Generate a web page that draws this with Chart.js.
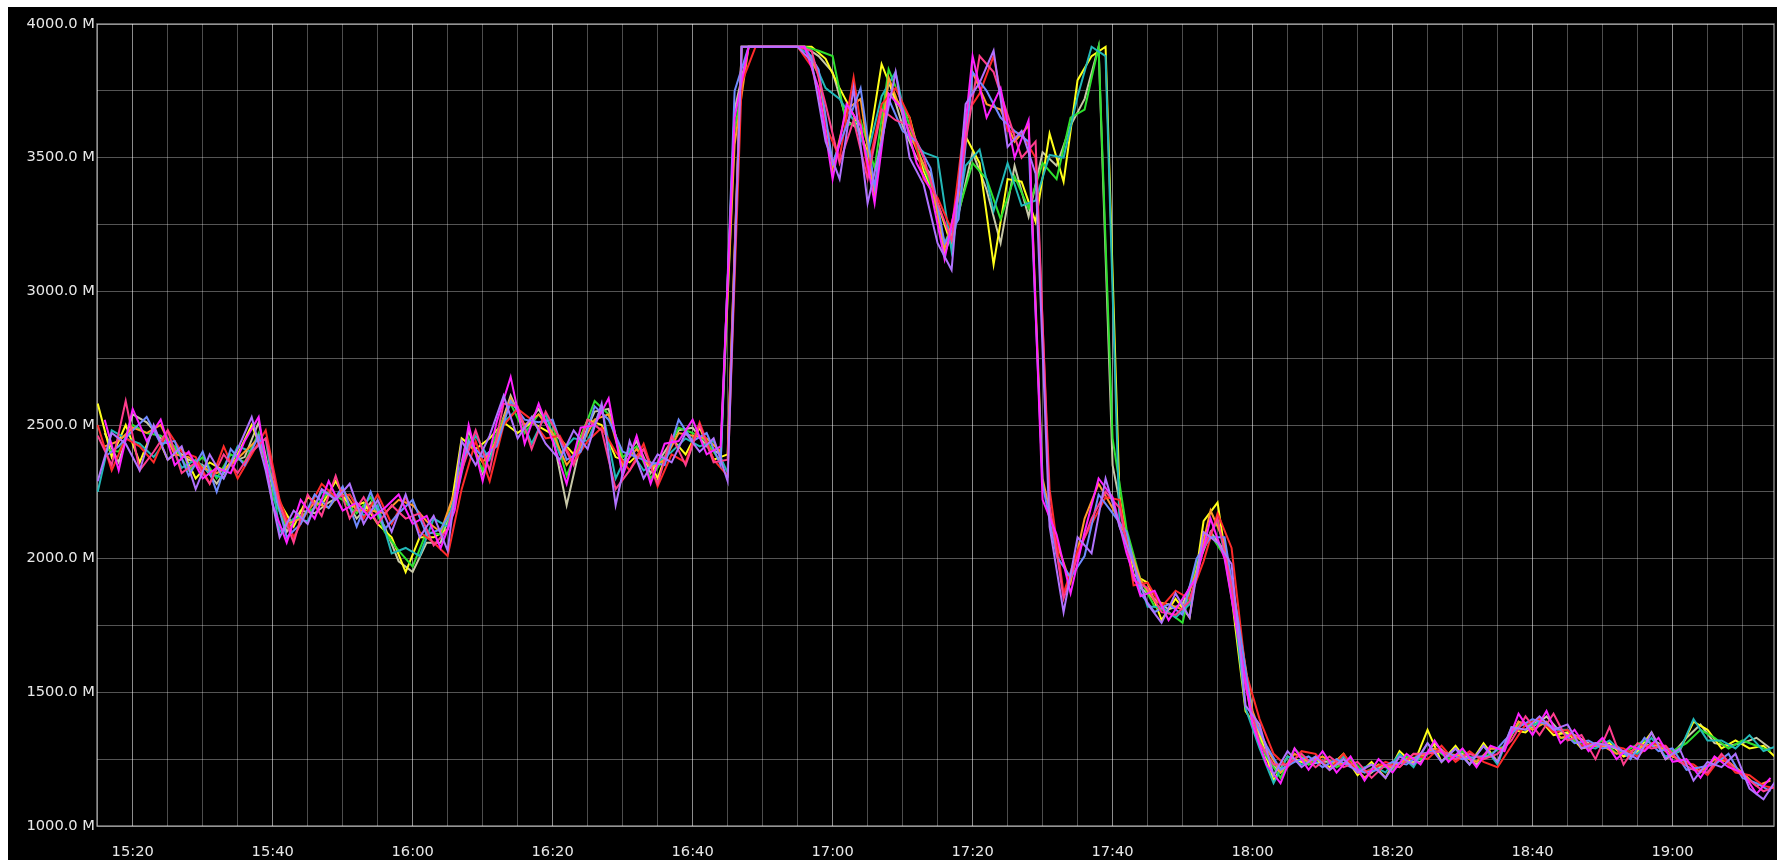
<!DOCTYPE html>
<html lang="en">
<head>
    <meta charset="UTF-8">
    <title>Throughput</title>
    <script src="https://cdn.jsdelivr.net/npm/chart.js"></script>
    <style>
        body, html {
            margin: 0;
            padding: 0;
            width: 1777px;
            height: 860px;
            overflow: hidden;
            background-color: #fff;
        }
        .plot {
            position: absolute;
            left: 8px;
            top: 7px;
            width: 1769px;
            height: 853px;
            background-color: #000;
        }
    </style>
</head>
<body>
    <div class="plot"><canvas id="throughputChart"></canvas></div>

    <script>
        // each host is polled every 2 minutes; half of them on odd minutes, half on even ones
        // (minutes after midnight: 915 = 15:15, 916 = 15:16)
        const oddStart = 915;
        const evenStart = 916;
        const stepMinutes = 2;

        const timeLabels = ['15:20', '15:40', '16:00', '16:20', '16:40', '17:00', '17:20', '17:40', '18:00', '18:20', '18:40', '19:00'];
        const yTicks = [1000, 1250, 1500, 1750, 2000, 2250, 2500, 2750, 3000, 3250, 3500, 3750, 4000];

        // values in M, odd minutes (15:15 .. 19:15)
        const violet = [
            2290, 2470, 2430, 2330, 2500, 2370, 2420, 2260, 2390, 2300,
            2410, 2530, 2330, 2080, 2180, 2130, 2260, 2220, 2280, 2130,
            2220, 2100, 2240, 2080, 2160, 2030, 2440, 2350, 2460, 2610,
            2450, 2530, 2430, 2370, 2480, 2410, 2580, 2200, 2440, 2300,
            2390, 2360, 2470, 2400, 2450, 2290, 3915, 3915, 3915, 3915,
            3915, 3860, 3560, 3420, 3760, 3330, 3560, 3820, 3500, 3400,
            3180, 3080, 3700, 3780, 3900, 3540, 3600, 3440, 2120, 1800,
            2080, 2020, 2300, 2120, 1980, 1830, 1760, 1870, 1780, 2100,
            2060, 1980, 1450, 1380, 1190, 1280, 1220, 1260, 1210, 1250,
            1200, 1230, 1180, 1260, 1230, 1310, 1240, 1290, 1230, 1300,
            1240, 1370, 1360, 1410, 1360, 1380, 1290, 1310, 1300, 1280,
            1250, 1350, 1250, 1290, 1170, 1240, 1220, 1270, 1140, 1100,
            1180
        ];
        const pink = [
            2460, 2350, 2590, 2330, 2400, 2480, 2320, 2360, 2280, 2390,
            2320, 2400, 2450, 2200, 2060, 2240, 2160, 2310, 2150, 2230,
            2130, 2200, 2150, 2170, 2050, 2110, 2330, 2480, 2330, 2580,
            2570, 2410, 2550, 2450, 2350, 2520, 2480, 2260, 2330, 2410,
            2280, 2460, 2350, 2500, 2360, 2370, 3915, 3915, 3915, 3915,
            3915, 3900, 3700, 3480, 3640, 3420, 3680, 3640, 3620, 3500,
            3330, 3190, 3560, 3880, 3820, 3660, 3500, 3560, 2200, 1850,
            2010, 2150, 2250, 2190, 1920, 1890, 1800, 1790, 1840, 2040,
            2150, 1900, 1520, 1310, 1230, 1230, 1270, 1220, 1260, 1220,
            1240, 1180, 1230, 1220, 1270, 1270, 1280, 1250, 1270, 1250,
            1270, 1320, 1410, 1340, 1420, 1320, 1340, 1250, 1370, 1230,
            1310, 1290, 1300, 1240, 1210, 1200, 1270, 1210, 1170, 1130,
            1150
        ];
        const red = [
            2500, 2330, 2450, 2420, 2360, 2480, 2400, 2380, 2280, 2420,
            2300, 2390, 2480, 2220, 2080, 2180, 2280, 2230, 2240, 2150,
            2240, 2130, 2230, 2100, 2060, 2010, 2260, 2440, 2290, 2500,
            2560, 2520, 2450, 2460, 2360, 2440, 2490, 2400, 2330, 2430,
            2270, 2390, 2360, 2510, 2370, 2310, 3780, 3915, 3915, 3915,
            3915, 3840, 3620, 3500, 3800, 3450, 3700, 3760, 3650, 3420,
            3350, 3230, 3660, 3740, 3880, 3600, 3590, 3500, 2260, 1870,
            2030, 2130, 2230, 2220, 1900, 1910, 1820, 1880, 1850, 1990,
            2170, 2040, 1580, 1400, 1270, 1220, 1280, 1270, 1210, 1270,
            1200, 1210, 1240, 1220, 1270, 1250, 1300, 1240, 1280, 1240,
            1220, 1300, 1380, 1400, 1350, 1360, 1300, 1310, 1300, 1290,
            1260, 1310, 1300, 1240, 1230, 1190, 1260, 1200, 1190, 1150,
            1140
        ];
        const teal = [
            2250, 2480, 2450, 2430, 2380, 2450, 2340, 2370, 2320, 2300,
            2420, 2400, 2450, 2100, 2150, 2140, 2250, 2230, 2240, 2160,
            2200, 2020, 2040, 2010, 2150, 2120, 2360, 2460, 2370, 2510,
            2560, 2430, 2540, 2390, 2450, 2440, 2570, 2300, 2410, 2330,
            2360, 2400, 2450, 2420, 2440, 2320, 3915, 3915, 3915, 3915,
            3915, 3880, 3760, 3720, 3640, 3510, 3730, 3820, 3570, 3520,
            3500, 3150, 3470, 3530, 3300, 3480, 3320, 3340, 3510, 3500,
            3730, 3915, 3880, 2120, 1990, 1820, 1820, 1780, 1830, 2050,
            2140, 1900, 1440, 1290, 1160, 1260, 1230, 1260, 1210, 1260,
            1210, 1230, 1200, 1270, 1220, 1310, 1240, 1290, 1230, 1300,
            1230, 1370, 1360, 1390, 1360, 1360, 1300, 1290, 1320, 1270,
            1270, 1330, 1260, 1280, 1400, 1320, 1320, 1290, 1340, 1280,
            1300
        ];
        const yellow = [
            2580, 2380, 2500, 2360, 2490, 2370, 2410, 2300, 2360, 2330,
            2390, 2500, 2370, 2210, 2120, 2230, 2200, 2290, 2190, 2210,
            2130, 2080, 1950, 2080, 2080, 2110, 2450, 2410, 2450, 2510,
            2470, 2510, 2480, 2450, 2390, 2520, 2500, 2380, 2360, 2410,
            2300, 2450, 2390, 2490, 2370, 2390, 3915, 3915, 3915, 3915,
            3915, 3915, 3870, 3760, 3660, 3520, 3850, 3720, 3650, 3450,
            3330, 3170, 3580, 3480, 3100, 3420, 3410, 3260, 3590, 3410,
            3790, 3880, 3915, 2230, 1940, 1910, 1770, 1850, 1780, 2140,
            2210, 1860, 1430, 1350, 1170, 1260, 1240, 1250, 1220, 1270,
            1190, 1240, 1180, 1280, 1230, 1360, 1240, 1300, 1230, 1310,
            1240, 1360, 1350, 1400, 1340, 1350, 1290, 1300, 1310, 1260,
            1280, 1350, 1250, 1280, 1390, 1360, 1290, 1320, 1290, 1300,
            1250
        ];

        // values in M, even minutes (15:16 .. 19:14)
        const magenta = [
            2520, 2330, 2560, 2440, 2520, 2350, 2400, 2300, 2340, 2320,
            2440, 2530, 2200, 2060, 2220, 2150, 2290, 2180, 2210, 2150,
            2190, 2240, 2130, 2160, 2040, 2180, 2500, 2290, 2510, 2680,
            2430, 2580, 2440, 2280, 2490, 2500, 2600, 2310, 2460, 2280,
            2430, 2440, 2520, 2390, 2420, 3650, 3915, 3915, 3915, 3915,
            3915, 3760, 3420, 3700, 3620, 3330, 3740, 3680, 3480, 3380,
            3120, 3380, 3880, 3650, 3760, 3500, 3640, 2220, 2090, 1870,
            2100, 2300, 2230, 2020, 1860, 1880, 1770, 1850, 1930, 2150,
            2000, 1700, 1380, 1230, 1160, 1290, 1210, 1280, 1200, 1260,
            1170, 1250, 1200, 1270, 1230, 1320, 1240, 1290, 1220, 1300,
            1280, 1420, 1340, 1430, 1310, 1360, 1280, 1330, 1250, 1300,
            1280, 1330, 1240, 1250, 1180, 1260, 1220, 1200, 1120, 1180
        ];
        const blue = [
            2380, 2420, 2480, 2530, 2430, 2440, 2310, 2400, 2250, 2410,
            2350, 2460, 2280, 2080, 2130, 2240, 2190, 2270, 2120, 2250,
            2110, 2170, 2220, 2090, 2110, 2200, 2440, 2380, 2420, 2590,
            2520, 2510, 2520, 2370, 2400, 2570, 2520, 2400, 2380, 2360,
            2350, 2520, 2440, 2470, 2350, 3750, 3915, 3915, 3915, 3915,
            3915, 3830, 3480, 3620, 3760, 3390, 3720, 3600, 3560, 3460,
            3180, 3270, 3820, 3750, 3650, 3600, 3560, 2280, 2010, 1930,
            2010, 2240, 2170, 2100, 1870, 1800, 1830, 1790, 2000, 2080,
            2080, 1760, 1410, 1300, 1210, 1240, 1260, 1220, 1250, 1220,
            1200, 1210, 1240, 1230, 1270, 1280, 1270, 1250, 1260, 1260,
            1320, 1370, 1400, 1380, 1360, 1310, 1320, 1290, 1300, 1250,
            1330, 1280, 1290, 1210, 1220, 1230, 1270, 1180, 1160, 1130
        ];
        const orange = [
            2420, 2440, 2490, 2470, 2500, 2390, 2380, 2340, 2320, 2350,
            2400, 2450, 2290, 2130, 2150, 2210, 2190, 2260, 2180, 2180,
            2170, 2220, 2200, 2140, 2100, 2250, 2430, 2360, 2440, 2600,
            2500, 2540, 2470, 2350, 2420, 2520, 2540, 2350, 2410, 2340,
            2370, 2470, 2460, 2450, 2400, 3550, 3915, 3915, 3915, 3915,
            3915, 3810, 3460, 3680, 3720, 3360, 3800, 3660, 3530, 3420,
            3160, 3350, 3820, 3700, 3680, 3560, 3620, 2300, 2060, 1910,
            2150, 2280, 2190, 2080, 1920, 1840, 1830, 1810, 1950, 2180,
            2060, 1760, 1430, 1290, 1200, 1270, 1240, 1260, 1230, 1240,
            1180, 1230, 1220, 1250, 1260, 1290, 1270, 1260, 1240, 1290,
            1290, 1390, 1360, 1390, 1330, 1340, 1300, 1300, 1270, 1280,
            1300, 1300, 1260, 1240, 1200, 1250, 1240, 1200, 1150, 1170
        ];
        const green = [
            2410, 2400, 2500, 2470, 2460, 2420, 2330, 2380, 2300, 2390,
            2360, 2470, 2230, 2120, 2160, 2190, 2250, 2220, 2170, 2230,
            2100, 2030, 1970, 2100, 2090, 2220, 2450, 2330, 2470, 2580,
            2470, 2540, 2500, 2310, 2450, 2590, 2540, 2380, 2420, 2300,
            2380, 2490, 2470, 2440, 2360, 3600, 3915, 3915, 3915, 3915,
            3915, 3900, 3880, 3620, 3640, 3460, 3830, 3700, 3540, 3400,
            3180, 3300, 3480, 3420, 3270, 3430, 3310, 3480, 3420, 3650,
            3680, 3915, 2450, 2110, 1920, 1820, 1800, 1760, 1990, 2090,
            2010, 1700, 1380, 1260, 1180, 1290, 1230, 1260, 1220, 1250,
            1200, 1230, 1210, 1260, 1250, 1290, 1250, 1280, 1240, 1270,
            1300, 1380, 1380, 1390, 1330, 1320, 1290, 1320, 1270, 1290,
            1320, 1300, 1280, 1310, 1360, 1330, 1290, 1320, 1300, 1280
        ];
        const beige = [
            2470, 2360, 2540, 2510, 2450, 2410, 2370, 2350, 2280, 2360,
            2380, 2510, 2260, 2100, 2180, 2170, 2210, 2240, 2150, 2210,
            2120, 1990, 1950, 2060, 2060, 2240, 2480, 2320, 2450, 2610,
            2490, 2560, 2460, 2200, 2430, 2550, 2560, 2360, 2440, 2320,
            2400, 2480, 2490, 2420, 2390, 3680, 3915, 3915, 3915, 3915,
            3915, 3880, 3820, 3640, 3600, 3380, 3790, 3620, 3500, 3440,
            3140, 3290, 3520, 3380, 3180, 3470, 3280, 3520, 3470, 3620,
            3720, 3915, 2350, 2080, 1890, 1850, 1810, 1830, 1960, 2100,
            2030, 1740, 1420, 1250, 1200, 1250, 1230, 1240, 1240, 1230,
            1180, 1220, 1230, 1240, 1240, 1310, 1260, 1270, 1230, 1290,
            1290, 1390, 1370, 1410, 1350, 1340, 1310, 1300, 1290, 1260,
            1300, 1310, 1270, 1330, 1380, 1310, 1300, 1310, 1330, 1290
        ];

        // first in the list ends up drawn on top
        const series = [
            { values: violet, start: oddStart, color: '#b072ff' },
            { values: magenta, start: evenStart, color: '#ff22ff' },
            { values: pink, start: oddStart, color: '#ff3c8c' },
            { values: blue, start: evenStart, color: '#6f8bff' },
            { values: red, start: oddStart, color: '#ff2a2a' },
            { values: orange, start: evenStart, color: '#ff9a2a' },
            { values: teal, start: oddStart, color: '#22b8b8' },
            { values: green, start: evenStart, color: '#2ee02e' },
            { values: yellow, start: oddStart, color: '#ffff1a' },
            { values: beige, start: evenStart, color: '#c8c8a8' }
        ];

        function clock(minutes) {
            const h = Math.floor(minutes / 60);
            const m = minutes % 60;
            return h + ':' + String(m).padStart(2, '0');
        }

        const labelFont = { family: 'DejaVu Sans', size: 14.67 };
        const labelColor = '#e8e8e8';

        const framePlugin = {
            id: 'frame',
            beforeDatasetsDraw(chart) {
                const { ctx, chartArea: a } = chart;
                ctx.save();
                ctx.strokeStyle = 'rgba(255, 255, 255, 0.5)';
                ctx.lineWidth = 1.5;
                ctx.strokeRect(a.left, a.top, a.right - a.left, a.bottom - a.top);
                ctx.restore();
            }
        };

        const datasets = series.map(s => ({
            data: s.values.map((v, i) => ({ x: s.start + i * stepMinutes, y: v })),
            borderColor: s.color,
            backgroundColor: s.color,
            borderWidth: 2,
            pointRadius: 0,
            tension: 0,
            fill: false
        }));

        new Chart(document.getElementById('throughputChart'), {
            type: 'line',
            data: { datasets: datasets },
            options: {
                responsive: true,
                maintainAspectRatio: false,
                animation: false,
                layout: { padding: { top: 17, right: 3, left: 0, bottom: 0 } },
                plugins: {
                    legend: { display: false },
                    tooltip: { enabled: false }
                },
                scales: {
                    x: {
                        type: 'linear',
                        min: 914.9,
                        max: 1154.5,
                        afterBuildTicks: scale => {
                            const ticks = [];
                            for (let m = 915; m <= 1154; m += 5) ticks.push({ value: m });
                            scale.ticks = ticks;
                        },
                        afterFit: scale => { scale.height = 34; },
                        border: { display: false },
                        grid: {
                            drawTicks: false,
                            color: ctx => (ctx.tick && timeLabels.includes(clock(ctx.tick.value)))
                                ? 'rgba(255, 255, 255, 0.55)' : 'rgba(255, 255, 255, 0.3)'
                        },
                        ticks: {
                            autoSkip: false,
                            maxRotation: 0,
                            padding: 17,
                            color: labelColor,
                            font: labelFont,
                            callback: v => timeLabels.includes(clock(v)) ? clock(v) : ''
                        }
                    },
                    y: {
                        min: 1000,
                        max: 4000,
                        afterBuildTicks: scale => { scale.ticks = yTicks.map(v => ({ value: v })); },
                        afterFit: scale => { scale.width = 89; },
                        border: { display: false },
                        grid: { drawTicks: false, color: 'rgba(255, 255, 255, 0.33)' },
                        ticks: {
                            padding: 2,
                            color: labelColor,
                            font: labelFont,
                            callback: v => v % 500 === 0 ? v.toFixed(1) + ' M' : ''
                        }
                    }
                }
            },
            plugins: [framePlugin]
        });
    </script>
</body>
</html>
